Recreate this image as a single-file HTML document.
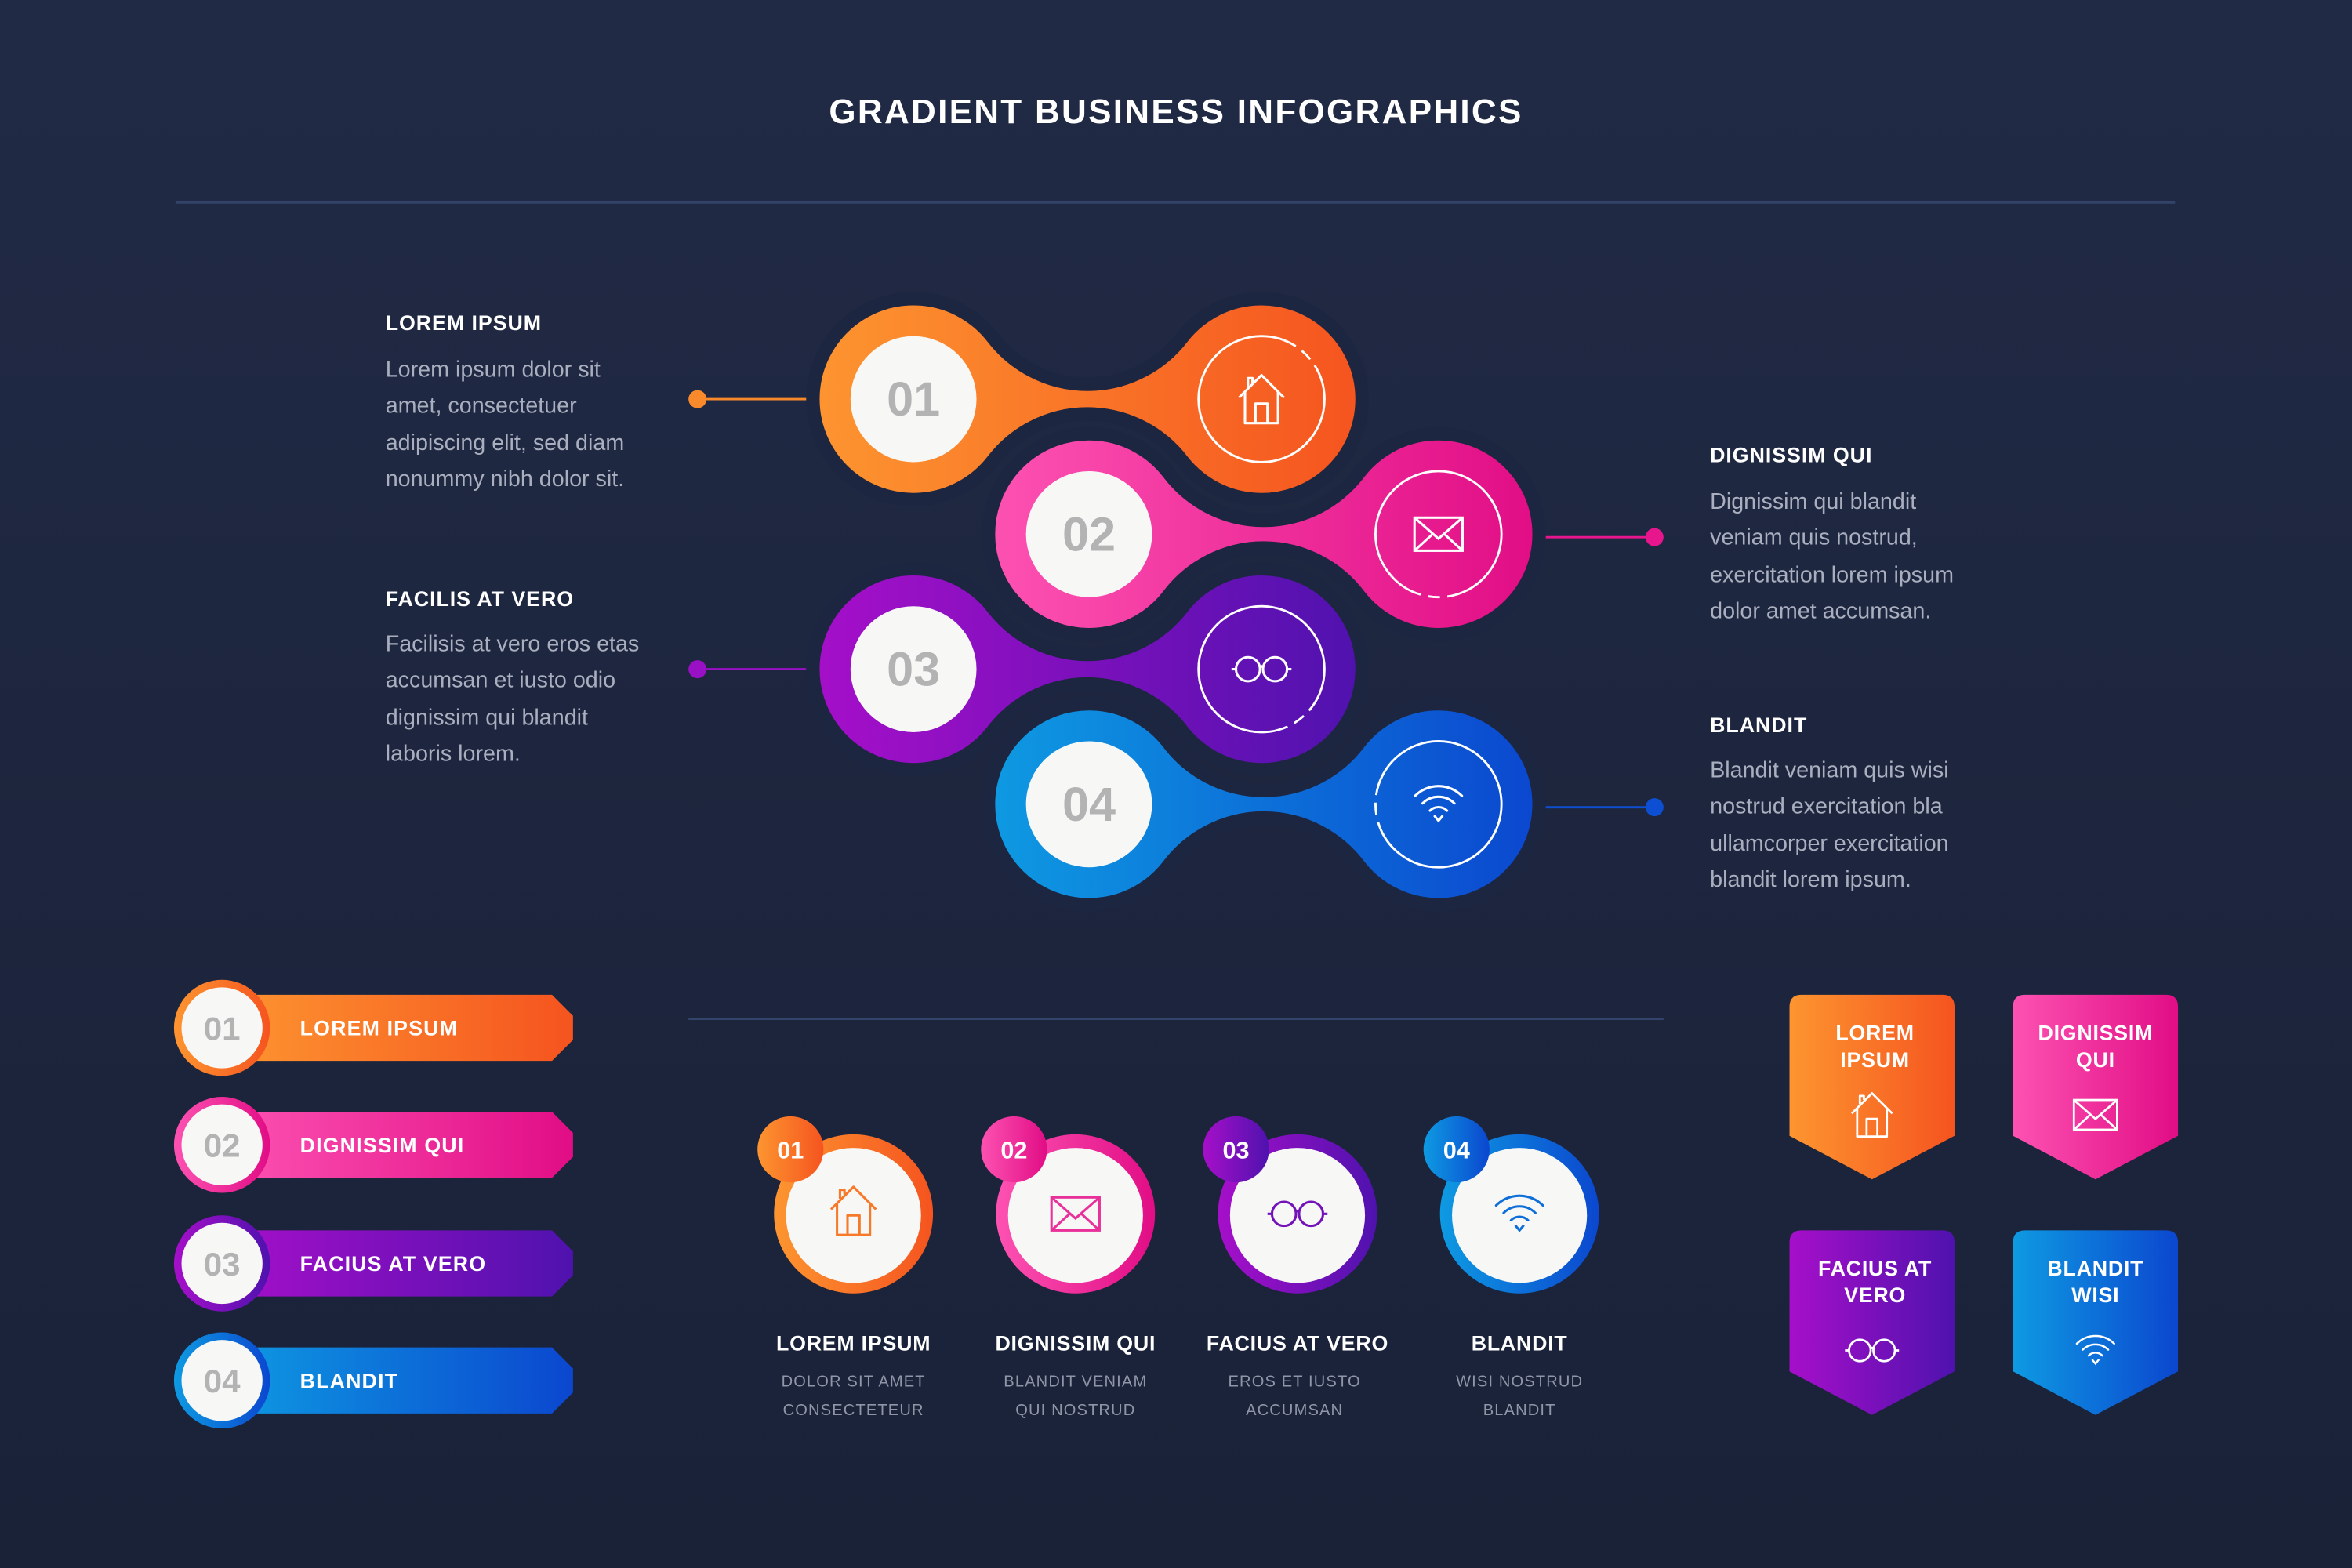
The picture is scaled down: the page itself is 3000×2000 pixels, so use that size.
<!DOCTYPE html>
<html><head><meta charset="utf-8"><style>
html,body{margin:0;padding:0;background:#1d2640;}
svg{display:block;}
text{font-family:"Liberation Sans",sans-serif;}
</style></head><body>
<svg width="3000" height="2000" viewBox="0 0 1568 1045" preserveAspectRatio="none" xmlns="http://www.w3.org/2000/svg">
<defs>
<linearGradient id="bg" x1="0" y1="0" x2="0" y2="1"><stop offset="0" stop-color="#212a45"/><stop offset="1" stop-color="#1a2238"/></linearGradient>
<linearGradient id="gO" x1="0" x2="1" y1="0" y2="0"><stop offset="0" stop-color="#fd9530"/><stop offset="1" stop-color="#f5541f"/></linearGradient>
<linearGradient id="gP" x1="0" x2="1" y1="0" y2="0"><stop offset="0" stop-color="#fd52b2"/><stop offset="1" stop-color="#e10d85"/></linearGradient>
<linearGradient id="gV" x1="0" x2="1" y1="0" y2="0"><stop offset="0" stop-color="#a60fc9"/><stop offset="1" stop-color="#4f12ae"/></linearGradient>
<linearGradient id="gB" x1="0" x2="1" y1="0" y2="0"><stop offset="0" stop-color="#0e9ae2"/><stop offset="1" stop-color="#0b47cf"/></linearGradient>
<g id="house" fill="none" stroke-width="1.6" stroke-linejoin="round"><path d="M-15,-1 L0,-16 L15,-1 M-11,-5 V16 H11 V-5 M-4,16 V3 H4 V16 M-9,-8 V-14 H-6 V-11"/></g>
<g id="mail" fill="none" stroke-width="1.6"><rect x="-16" y="-11" width="32" height="22"/><path d="M-16,-11 L0,3 L16,-11 M-16,11 L-4,0 M16,11 L4,0"/></g>
<g id="glass" fill="none" stroke-width="1.6"><circle cx="-9" cy="0" r="8"/><circle cx="9" cy="0" r="8"/><path d="M-1,-1 Q0,-3 1,-1 M-17,0 H-20 M17,0 H20"/></g>
<g id="wifi" fill="none" stroke-width="1.6" stroke-linecap="round"><path d="M-15.6,-5.6 A22 22 0 0 1 15.6,-5.6 M-10.6,-0.6 A15 15 0 0 1 10.6,-0.6 M-5.7,4.3 A8 8 0 0 1 5.7,4.3 M-2.5,8 L0,11 L2.5,8"/></g>
</defs>
<rect width="1568" height="1045" fill="url(#bg)"/>
<text x="784" y="82" text-anchor="middle" fill="#fff" font-size="23" font-weight="bold" letter-spacing="1.2">GRADIENT BUSINESS INFOGRAPHICS</text>
<line x1="117" y1="135" x2="1450" y2="135" stroke="#33436a" stroke-width="1.5"/>

<!-- leader lines -->
<line x1="465" y1="266" x2="560" y2="266" stroke="#f98a2c" stroke-width="1.5"/><circle cx="465" cy="266" r="6" fill="#f98a2c"/>
<line x1="1010" y1="358" x2="1103" y2="358" stroke="#e8168d" stroke-width="1.5"/><circle cx="1103" cy="358" r="6" fill="#e8168d"/>
<line x1="465" y1="446" x2="560" y2="446" stroke="#9a10c4" stroke-width="1.5"/><circle cx="465" cy="446" r="6" fill="#9a10c4"/>
<line x1="1010" y1="538" x2="1103" y2="538" stroke="#0d4fd2" stroke-width="1.5"/><circle cx="1103" cy="538" r="6" fill="#0d4fd2"/>

<!-- capsules -->
<g stroke="#1d2640" stroke-width="9">
<path fill="url(#gO)" d="M662,225.1 A79.5,79.5 0 0 0 788,225.1 A67,67 0 1 1 788,306.9 A79.5,79.5 0 0 0 662,306.9 A67,67 0 1 1 662,225.1 Z"/>
<path fill="url(#gP)" d="M779,315.1 A79.5,79.5 0 0 0 906,315.1 A67,67 0 1 1 906,396.9 A79.5,79.5 0 0 0 779,396.9 A67,67 0 1 1 779,315.1 Z"/>
<path fill="url(#gV)" d="M662,405.1 A79.5,79.5 0 0 0 788,405.1 A67,67 0 1 1 788,486.9 A79.5,79.5 0 0 0 662,486.9 A67,67 0 1 1 662,405.1 Z"/>
<path fill="url(#gB)" d="M779,495.1 A79.5,79.5 0 0 0 906,495.1 A67,67 0 1 1 906,576.9 A79.5,79.5 0 0 0 779,576.9 A67,67 0 1 1 779,495.1 Z"/>
</g>
<g fill="#f7f8f6"><circle cx="609" cy="266" r="42"/><circle cx="726" cy="356" r="42"/><circle cx="609" cy="446" r="42"/><circle cx="726" cy="536" r="42"/></g>
<g fill="#b3b3b3" font-size="32" font-weight="bold" text-anchor="middle"><text x="609" y="277">01</text><text x="726" y="367">02</text><text x="609" y="457">03</text><text x="726" y="547">04</text></g>
<g fill="none" stroke="#fff" stroke-width="1.5"><circle cx="841" cy="266" r="42" stroke-dasharray="222 5 8 5 24"/><circle cx="959" cy="356" r="42" stroke-dasharray="60 5 8 5 186"/><circle cx="841" cy="446" r="42" stroke-dasharray="30 5 8 5 216"/><circle cx="959" cy="536" r="42" stroke-dasharray="120 5 8 5 126"/></g>
<use href="#house" x="841" y="266" stroke="#fff"/>
<use href="#mail" x="959" y="356" stroke="#fff"/>
<use href="#glass" x="841" y="446" stroke="#fff"/>
<use href="#wifi" x="959" y="536" stroke="#fff"/>

<!-- text blocks -->
<g font-size="14" font-weight="bold" fill="#fff" letter-spacing="0.5">
<text x="257" y="220">LOREM IPSUM</text><text x="257" y="404">FACILIS AT VERO</text>
<text x="1140" y="308">DIGNISSIM QUI</text><text x="1140" y="488">BLANDIT</text></g>
<g font-size="15" fill="#a9afbf">
<text x="257" y="251">Lorem ipsum dolor sit</text><text x="257" y="275">amet, consectetuer</text><text x="257" y="300">adipiscing elit, sed diam</text><text x="257" y="324">nonummy nibh dolor sit.</text>
<text x="257" y="434">Facilisis at vero eros etas</text><text x="257" y="458">accumsan et iusto odio</text><text x="257" y="483">dignissim qui blandit</text><text x="257" y="507">laboris lorem.</text>
<text x="1140" y="339">Dignissim qui blandit</text><text x="1140" y="363">veniam quis nostrud,</text><text x="1140" y="388">exercitation lorem ipsum</text><text x="1140" y="412">dolor amet accumsan.</text>
<text x="1140" y="518">Blandit veniam quis wisi</text><text x="1140" y="542">nostrud exercitation bla</text><text x="1140" y="567">ullamcorper exercitation</text><text x="1140" y="591">blandit lorem ipsum.</text>
</g>

<line x1="459" y1="679" x2="1109" y2="679" stroke="#33436a" stroke-width="1.5"/>

<!-- left tab list -->
<g>
<path fill="url(#gO)" d="M150,663 H368 L382,677 V693 L368,707 H150 Z"/><circle cx="148" cy="685" r="32" fill="url(#gO)"/><circle cx="148" cy="685" r="27" fill="#f7f8f6"/>
<path fill="url(#gP)" d="M150,741 H368 L382,755 V771 L368,785 H150 Z"/><circle cx="148" cy="763" r="32" fill="url(#gP)"/><circle cx="148" cy="763" r="27" fill="#f7f8f6"/>
<path fill="url(#gV)" d="M150,820 H368 L382,834 V850 L368,864 H150 Z"/><circle cx="148" cy="842" r="32" fill="url(#gV)"/><circle cx="148" cy="842" r="27" fill="#f7f8f6"/>
<path fill="url(#gB)" d="M150,898 H368 L382,912 V928 L368,942 H150 Z"/><circle cx="148" cy="920" r="32" fill="url(#gB)"/><circle cx="148" cy="920" r="27" fill="#f7f8f6"/>
</g>
<g fill="#b3b3b3" font-size="22" font-weight="bold" text-anchor="middle"><text x="148" y="693">01</text><text x="148" y="771">02</text><text x="148" y="850">03</text><text x="148" y="928">04</text></g>
<g fill="#fff" font-size="14" font-weight="bold" letter-spacing="0.6"><text x="200" y="690">LOREM IPSUM</text><text x="200" y="768">DIGNISSIM QUI</text><text x="200" y="847">FACIUS AT VERO</text><text x="200" y="925">BLANDIT</text></g>

<!-- bottom circles -->
<circle cx="569" cy="809" r="53" fill="url(#gO)"/><circle cx="569" cy="810" r="45" fill="#f7f8f6"/><circle cx="527" cy="766" r="22" fill="url(#gO)"/>
<circle cx="717" cy="809" r="53" fill="url(#gP)"/><circle cx="717" cy="810" r="45" fill="#f7f8f6"/><circle cx="676" cy="766" r="22" fill="url(#gP)"/>
<circle cx="865" cy="809" r="53" fill="url(#gV)"/><circle cx="865" cy="810" r="45" fill="#f7f8f6"/><circle cx="824" cy="766" r="22" fill="url(#gV)"/>
<circle cx="1013" cy="809" r="53" fill="url(#gB)"/><circle cx="1013" cy="810" r="45" fill="#f7f8f6"/><circle cx="971" cy="766" r="22" fill="url(#gB)"/>
<g fill="#fff" font-size="16" font-weight="bold" text-anchor="middle"><text x="527" y="772">01</text><text x="676" y="772">02</text><text x="824" y="772">03</text><text x="971" y="772">04</text></g>
<use href="#house" x="569" y="807" stroke="#f7792a"/>
<use href="#mail" x="717" y="809" stroke="#e8319a"/>
<use href="#glass" x="865" y="809" stroke="#7212b8"/>
<use href="#wifi" x="1013" y="809" stroke="#0f6fd8"/>
<g fill="#fff" font-size="14" font-weight="bold" text-anchor="middle" letter-spacing="0.4"><text x="569" y="900">LOREM IPSUM</text><text x="717" y="900">DIGNISSIM QUI</text><text x="865" y="900">FACIUS AT VERO</text><text x="1013" y="900">BLANDIT</text></g>
<g fill="#8f96a8" font-size="10.5" text-anchor="middle" letter-spacing="0.6">
<text x="569" y="924">DOLOR SIT AMET</text><text x="569" y="943">CONSECTETEUR</text>
<text x="717" y="924">BLANDIT VENIAM</text><text x="717" y="943">QUI NOSTRUD</text>
<text x="863" y="924">EROS ET IUSTO</text><text x="863" y="943">ACCUMSAN</text>
<text x="1013" y="924">WISI NOSTRUD</text><text x="1013" y="943">BLANDIT</text></g>

<!-- shields -->
<path fill="url(#gO)" d="M1201,663 H1295 Q1303,663 1303,671 V757 L1248,786 L1193,757 V671 Q1193,663 1201,663 Z"/>
<path fill="url(#gP)" d="M1350,663 H1444 Q1452,663 1452,671 V757 L1397,786 L1342,757 V671 Q1342,663 1350,663 Z"/>
<path fill="url(#gV)" d="M1201,820 H1295 Q1303,820 1303,828 V914 L1248,943 L1193,914 V828 Q1193,820 1201,820 Z"/>
<path fill="url(#gB)" d="M1350,820 H1444 Q1452,820 1452,828 V914 L1397,943 L1342,914 V828 Q1342,820 1350,820 Z"/>
<g fill="#fff" font-size="14" font-weight="bold" text-anchor="middle" letter-spacing="0.4">
<text x="1250" y="693">LOREM</text><text x="1250" y="711">IPSUM</text>
<text x="1397" y="693">DIGNISSIM</text><text x="1397" y="711">QUI</text>
<text x="1250" y="850">FACIUS AT</text><text x="1250" y="868">VERO</text>
<text x="1397" y="850">BLANDIT</text><text x="1397" y="868">WISI</text></g>
<use href="#house" x="1248" y="743" stroke="#fff" transform="translate(1248 743) scale(0.9) translate(-1248 -743)"/>
<use href="#mail" x="1397" y="743" stroke="#fff" transform="translate(1397 743) scale(0.9) translate(-1397 -743)"/>
<use href="#glass" x="1248" y="900" stroke="#fff" transform="translate(1248 900) scale(0.9) translate(-1248 -900)"/>
<use href="#wifi" x="1397" y="900" stroke="#fff" transform="translate(1397 900) scale(0.8) translate(-1397 -900)"/>
</svg>
</body></html>
